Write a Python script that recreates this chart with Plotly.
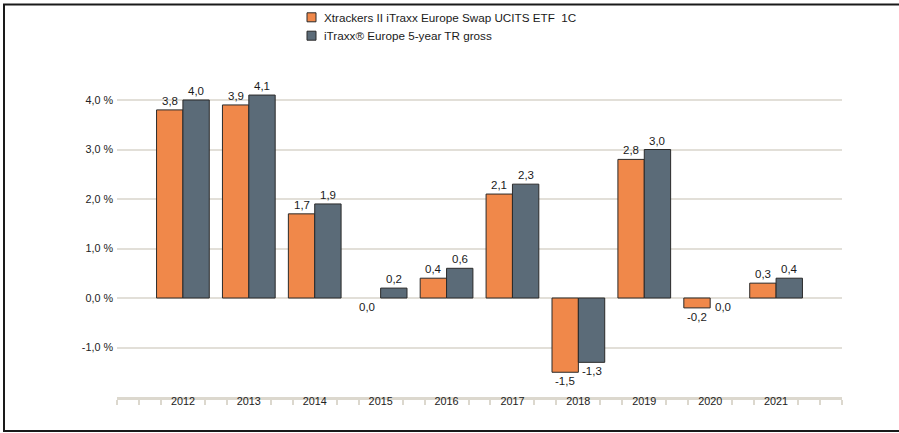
import plotly.graph_objects as go

years = [2012, 2013, 2014, 2015, 2016, 2017, 2018, 2019, 2020, 2021]
etf_values = [3.8, 3.9, 1.7, 0.0, 0.4, 2.1, -1.5, 2.8, -0.2, 0.3]
index_values = [4.0, 4.1, 1.9, 0.2, 0.6, 2.3, -1.3, 3.0, 0.0, 0.4]
series_names = ["Xtrackers II iTraxx Europe Swap UCITS ETF  1C", "iTraxx® Europe 5-year TR gross"]
y_tickvals = [-1, 0, 1, 2, 3, 4]
y_ticktext = ["-1,0 %", "0,0 %", "1,0 %", "2,0 %", "3,0 %", "4,0 %"]

ORANGE = "#F0884A"
GREY = "#5B6B78"
FONT = "Liberation Sans, Arial, sans-serif"

W, H = 899, 433
ML, MR, MT, MB = 117, 57, 68, 36
PW, PH = W - ML - MR, H - MT - MB


def px_x(p):
    return (p - ML) / PW


def px_y(p):
    return (H - MB - p) / PH


fig = go.Figure()
for name, vals, col in [(series_names[0], etf_values, ORANGE), (series_names[1], index_values, GREY)]:
    fig.add_trace(go.Bar(
        x=years, y=vals, name=name, showlegend=False,
        marker=dict(color=col, line=dict(color="#2a2a2a", width=[0 if v == 0 else 1 for v in vals])),
    ))

# value labels
annotations = []
for vals, shift in [(etf_values, -13.2), (index_values, 13.2)]:
    for yr, v in zip(years, vals):
        txt = f"{v:.1f}".replace(".", ",")
        pos = v > 0
        annotations.append(dict(
            x=yr, y=v, xref="x", yref="y", text=txt, showarrow=False,
            xshift=shift, yshift=1 if pos else -1,
            yanchor="bottom" if pos else "top",
            font=dict(family=FONT, size=11.5, color="#1a1a1a"),
        ))

# legend (drawn manually to match the original layout)
shapes = []
for i, (name, col) in enumerate(zip(series_names, [ORANGE, GREY])):
    cy = 17.3 + 18.4 * i
    shapes.append(dict(
        type="rect", xref="paper", yref="paper",
        x0=px_x(307), x1=px_x(316), y0=px_y(cy + 4.5), y1=px_y(cy - 4.5),
        line=dict(color="#2a2a2a", width=1), fillcolor=col,
    ))
    annotations.append(dict(
        x=px_x(321.5), y=px_y(cy), xref="paper", yref="paper", text=name,
        showarrow=False, xanchor="left", yanchor="middle",
        font=dict(family=FONT, size=11.7, color="#1a1a1a"),
    ))

# outer frame
shapes.append(dict(
    type="rect", xref="paper", yref="paper",
    x0=px_x(4), x1=px_x(905), y0=px_y(431), y1=px_y(4.5),
    line=dict(color="#1a1a1a", width=2), fillcolor="rgba(0,0,0,0)", layer="below",
))

minor_vals = []
for i in range(2011, 2022):
    minor_vals += [i, i + 1 / 3, i + 2 / 3]
minor_vals.append(2022)
minor_vals = [m for m in minor_vals if not (2012 <= m <= 2021 and abs(m - round(m)) < 1e-9)]

fig.update_layout(
    width=W, height=H,
    margin=dict(l=ML, r=MR, t=MT, b=MB),
    paper_bgcolor="white", plot_bgcolor="white",
    barmode="group", bargap=0.2, bargroupgap=0,
    font=dict(family=FONT, size=10.5, color="#333333"),
    showlegend=False,
    annotations=annotations,
    shapes=shapes,
)
fig.update_xaxes(
    range=[2011, 2022], tickmode="array", tickvals=years, ticktext=[str(y) for y in years],
    ticks="", showgrid=False, zeroline=False,
    showline=True, linecolor="#dcd8ce", linewidth=3,
    tickfont=dict(family=FONT, size=10.8, color="#222222"),
    ticklabelstandoff=-8,
    minor=dict(tickmode="array", tickvals=minor_vals, ticks="outside", ticklen=5,
               tickcolor="#dcd8ce", tickwidth=2, showgrid=False),
)
fig.update_yaxes(
    range=[-2, -2 + PH / 49.5], tickmode="array", tickvals=y_tickvals, ticktext=y_ticktext,
    showgrid=True, gridcolor="#e2dfd8", gridwidth=2, zeroline=False,
    showline=False, ticks="", ticklabelstandoff=3,
    tickfont=dict(family=FONT, size=10.8, color="#222222"),
)

fig.write_html(
    "out.html",
    config={"displayModeBar": False},
    post_script="document.body.style.margin='0';document.body.style.overflow='hidden';",
)
